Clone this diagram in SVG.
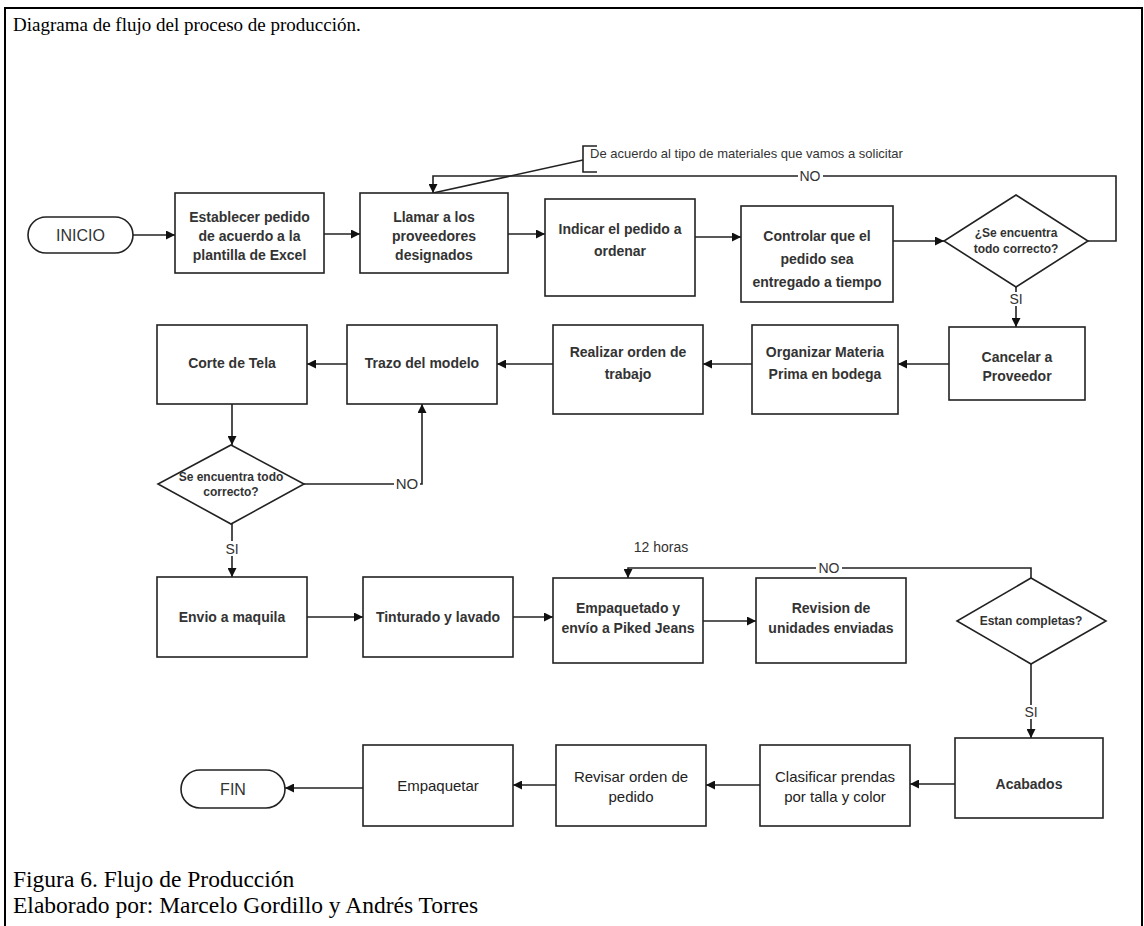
<svg xmlns="http://www.w3.org/2000/svg" width="1144" height="926" viewBox="0 0 1144 926">
<defs>
  <marker id="arrow" viewBox="0 0 10 10" refX="10" refY="5" markerWidth="10" markerHeight="9" markerUnits="userSpaceOnUse" orient="auto">
    <path d="M0,0 L10,5 L0,10 z" fill="#111"/>
  </marker>
</defs>
<style>
  .frame{fill:none;stroke:#000;stroke-width:2}
  .serif{font-family:"Liberation Serif","Times New Roman",serif;fill:#000}
  .title{font-size:19px}
  .caption{font-size:23.5px}
  .box{fill:#fff;stroke:#222;stroke-width:1.6}
  .lbl{font-family:"Liberation Sans",Arial,sans-serif;font-weight:bold;font-size:14px;fill:#333;text-anchor:middle}
  .lblr{font-family:"Liberation Sans",Arial,sans-serif;font-size:15px;fill:#222;text-anchor:middle}
  .dlbl{font-family:"Liberation Sans",Arial,sans-serif;font-weight:bold;font-size:12px;fill:#333;text-anchor:middle}
  .term{font-family:"Liberation Sans",Arial,sans-serif;font-size:16px;fill:#333;text-anchor:middle}
  .tag{font-family:"Liberation Sans",Arial,sans-serif;font-size:14px;fill:#333;text-anchor:middle}
  .note{font-family:"Liberation Sans",Arial,sans-serif;font-size:13px;fill:#333}
  .edge{fill:none;stroke:#222;stroke-width:1.6}
  .arr{marker-end:url(#arrow)}
  .bg{fill:#fff}
</style>

<rect width="1144" height="926" fill="#fff"/>
<!-- page frame, open at the bottom -->
<path class="frame" d="M5,940 V8 H1142 V940"/>

<text class="serif title" x="13" y="31">Diagrama de flujo del proceso de producción.</text>
<text class="serif caption" x="13" y="887">Figura 6. Flujo de Producción</text>
<text class="serif caption" x="13" y="913">Elaborado por: Marcelo Gordillo y Andrés Torres</text>

<!-- connectors -->
<g id="connectors">
  <path class="edge arr" d="M133,235 H175"/>
  <path class="edge arr" d="M324,234 H360"/>
  <path class="edge arr" d="M508,234 H545"/>
  <path class="edge arr" d="M695,237 H741"/>
  <path class="edge arr" d="M893,241 H944"/>
  <!-- NO loop back to suppliers -->
  <path class="edge arr" d="M1088,241 H1116 V176 H433 V193"/>
  <rect class="bg" x="798" y="169" width="25" height="14"/>
  <text class="tag" x="810" y="181">NO</text>
  <!-- annotation -->
  <path class="edge" d="M597,146 H583 V172 H597"/>
  <path class="edge" d="M583,160 L433,193"/>
  <text class="note" x="590" y="158">De acuerdo al tipo de materiales que vamos a solicitar</text>
  <!-- SI down to Cancelar -->
  <path class="edge arr" d="M1016,287 V327"/>
  <rect class="bg" x="1008" y="292" width="16" height="14"/>
  <text class="tag" x="1016" y="304">SI</text>

  <path class="edge arr" d="M949,364 H898"/>
  <path class="edge arr" d="M752,364 H703"/>
  <path class="edge arr" d="M553,364 H497"/>
  <path class="edge arr" d="M347,364 H307"/>
  <path class="edge arr" d="M232,404 V445"/>
  <!-- NO back to Trazo -->
  <path class="edge arr" d="M304,484 H422 V404"/>
  <rect class="bg" x="394" y="476" width="26" height="16"/>
  <text class="tag" x="407" y="489" style="font-size:15px">NO</text>
  <!-- SI down to Envio -->
  <path class="edge arr" d="M232,524 V577"/>
  <rect class="bg" x="224" y="541" width="16" height="15"/>
  <text class="tag" x="232" y="554">SI</text>

  <path class="edge arr" d="M307,617 H363"/>
  <path class="edge arr" d="M513,617 H553"/>
  <path class="edge arr" d="M703,621 H756"/>
  <!-- NO loop back to Empaquetado -->
  <path class="edge arr" d="M1031,578 V568 H628 V578"/>
  <rect class="bg" x="816" y="561" width="26" height="14"/>
  <text class="tag" x="829" y="573">NO</text>
  <text class="tag" x="661" y="552">12 horas</text>
  <!-- SI down to Acabados -->
  <path class="edge arr" d="M1031,664 V738"/>
  <rect class="bg" x="1023" y="705" width="16" height="14"/>
  <text class="tag" x="1031" y="717">SI</text>

  <path class="edge arr" d="M955,784 H910"/>
  <path class="edge arr" d="M760,785 H706"/>
  <path class="edge arr" d="M556,785 H513"/>
  <path class="edge arr" d="M363,788 H285"/>
</g>

<!-- row 1 -->
<g id="inicio">
  <rect class="box" x="28" y="217" width="105" height="36" rx="18"/>
  <text class="term" x="80.5" y="241">INICIO</text>
</g>
<g id="establecer">
  <rect class="box" x="175" y="193" width="149" height="80"/>
  <text class="lbl" x="249.5" y="222">Establecer pedido</text>
  <text class="lbl" x="249.5" y="241">de acuerdo a la</text>
  <text class="lbl" x="249.5" y="260">plantilla de Excel</text>
</g>
<g id="llamar">
  <rect class="box" x="360" y="193" width="148" height="80"/>
  <text class="lbl" x="434" y="222">Llamar a los</text>
  <text class="lbl" x="434" y="241">proveedores</text>
  <text class="lbl" x="434" y="260">designados</text>
</g>
<g id="indicar">
  <rect class="box" x="545" y="199" width="150" height="97"/>
  <text class="lbl" x="620" y="234">Indicar el pedido a</text>
  <text class="lbl" x="620" y="256">ordenar</text>
</g>
<g id="controlar">
  <rect class="box" x="741" y="206" width="152" height="96"/>
  <text class="lbl" x="817" y="241">Controlar que el</text>
  <text class="lbl" x="817" y="264">pedido sea</text>
  <text class="lbl" x="817" y="287">entregado a tiempo</text>
</g>
<g id="decision-pedido">
  <polygon class="box" points="1016,195 1088,241 1016,287 944,241"/>
  <text class="dlbl" x="1016" y="237">¿Se encuentra</text>
  <text class="dlbl" x="1016" y="253">todo correcto?</text>
</g>

<!-- row 2 -->
<g id="cancelar">
  <rect class="box" x="949" y="327" width="136" height="73"/>
  <text class="lbl" x="1017" y="362">Cancelar a</text>
  <text class="lbl" x="1017" y="381">Proveedor</text>
</g>
<g id="organizar">
  <rect class="box" x="752" y="325" width="146" height="89"/>
  <text class="lbl" x="825" y="357">Organizar Materia</text>
  <text class="lbl" x="825" y="379">Prima en bodega</text>
</g>
<g id="realizar">
  <rect class="box" x="553" y="325" width="150" height="89"/>
  <text class="lbl" x="628" y="357">Realizar orden de</text>
  <text class="lbl" x="628" y="379">trabajo</text>
</g>
<g id="trazo">
  <rect class="box" x="347" y="325" width="150" height="79"/>
  <text class="lbl" x="422" y="368">Trazo del modelo</text>
</g>
<g id="corte">
  <rect class="box" x="157" y="325" width="150" height="79"/>
  <text class="lbl" x="232" y="368">Corte de Tela</text>
</g>
<g id="decision-corte">
  <polygon class="box" points="231,445 304,484 231,524 158,484"/>
  <text class="dlbl" x="231" y="481">Se encuentra todo</text>
  <text class="dlbl" x="231" y="496">correcto?</text>
</g>

<!-- row 3 -->
<g id="envio">
  <rect class="box" x="157" y="577" width="150" height="80"/>
  <text class="lbl" x="232" y="622">Envio a maquila</text>
</g>
<g id="tinturado">
  <rect class="box" x="363" y="577" width="150" height="80"/>
  <text class="lbl" x="438" y="622">Tinturado y lavado</text>
</g>
<g id="empaquetado">
  <rect class="box" x="553" y="578" width="150" height="85"/>
  <text class="lbl" x="628" y="613">Empaquetado y</text>
  <text class="lbl" x="628" y="633">envío a Piked Jeans</text>
</g>
<g id="revision">
  <rect class="box" x="756" y="578" width="150" height="85"/>
  <text class="lbl" x="831" y="613">Revision de</text>
  <text class="lbl" x="831" y="633">unidades enviadas</text>
</g>
<g id="decision-completas">
  <polygon class="box" points="1031,578 1106,621 1031,664 957,621"/>
  <text class="dlbl" x="1031" y="625">Estan completas?</text>
</g>

<!-- row 4 -->
<g id="acabados">
  <rect class="box" x="955" y="738" width="148" height="80"/>
  <text class="lbl" x="1029" y="789">Acabados</text>
</g>
<g id="clasificar">
  <rect class="box" x="760" y="745" width="150" height="81"/>
  <text class="lblr" x="835" y="782">Clasificar prendas</text>
  <text class="lblr" x="835" y="802">por talla y color</text>
</g>
<g id="revisar">
  <rect class="box" x="556" y="745" width="150" height="81"/>
  <text class="lblr" x="631" y="782">Revisar orden de</text>
  <text class="lblr" x="631" y="802">pedido</text>
</g>
<g id="empaquetar">
  <rect class="box" x="363" y="745" width="150" height="81"/>
  <text class="lblr" x="438" y="791">Empaquetar</text>
</g>
<g id="fin">
  <rect class="box" x="181" y="770" width="104" height="38" rx="19"/>
  <text class="term" x="233" y="795">FIN</text>
</g>
</svg>
